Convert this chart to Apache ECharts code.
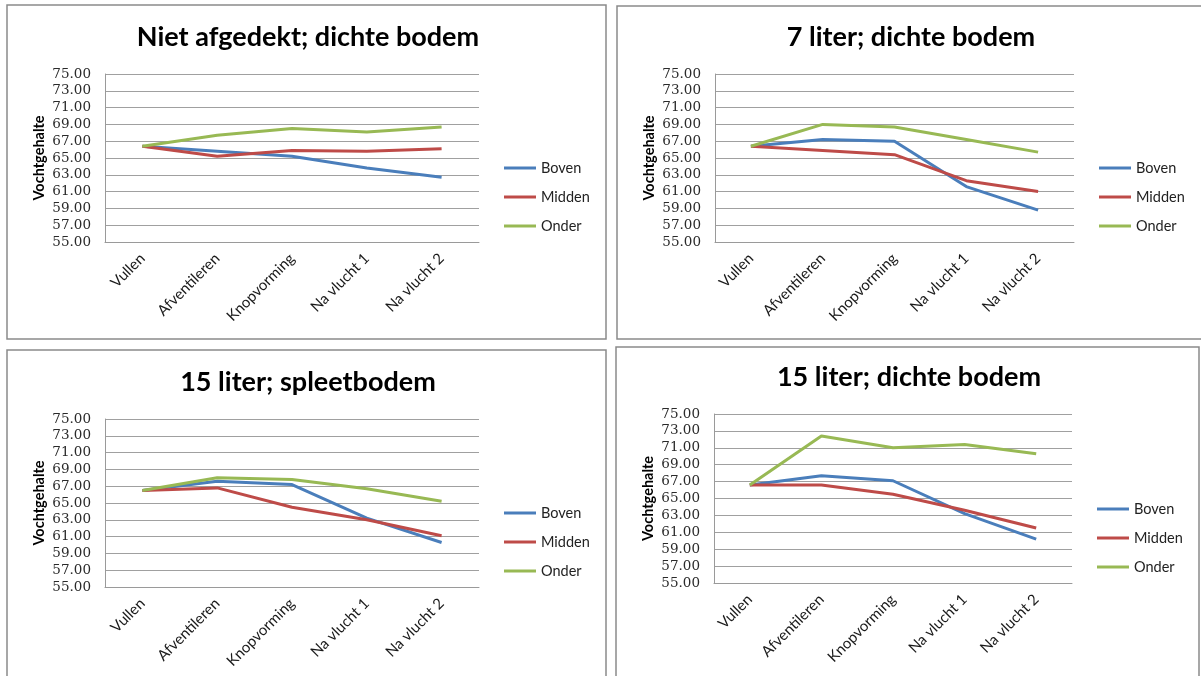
<!DOCTYPE html>
<html>
<head>
<meta charset="utf-8">
<script src="https://cdn.jsdelivr.net/npm/echarts@6/dist/echarts.min.js"></script>
<style>
  html, body { margin: 0; padding: 0; background: #ffffff; }
  #chart { width: 1201px; height: 676px; }
</style>
</head>
<body>
<div id="chart"></div>
<script>
// Measurement stages along the x axis
const categories = ['Vullen', 'Afventileren', 'Knopvorming', 'Na vlucht 1', 'Na vlucht 2'];
const seriesNames = ['Boven', 'Midden', 'Onder'];
const panelTitles = ['Niet afgedekt; dichte bodem', '7 liter; dichte bodem', '15 liter; spleetbodem', '15 liter; dichte bodem'];

// Moisture content (Vochtgehalte) per layer, per setup
const boven1  = [66.4, 65.8, 65.2, 63.8, 62.7];
const midden1 = [66.4, 65.2, 65.9, 65.8, 66.1];
const onder1  = [66.4, 67.7, 68.5, 68.1, 68.7];

const boven2  = [66.4, 67.2, 67.0, 61.6, 58.8];
const midden2 = [66.4, 65.9, 65.4, 62.3, 61.0];
const onder2  = [66.4, 69.0, 68.7, 67.2, 65.7];

const boven3  = [66.5, 67.6, 67.2, 63.2, 60.3];
const midden3 = [66.5, 66.8, 64.5, 63.0, 61.1];
const onder3  = [66.5, 68.0, 67.8, 66.7, 65.2];

const boven4  = [66.6, 67.7, 67.1, 63.2, 60.2];
const midden4 = [66.6, 66.6, 65.5, 63.6, 61.5];
const onder4  = [66.6, 72.4, 71.0, 71.4, 70.3];

// Value axis range
const yMin = 55, yMax = 75, yStep = 2;

const panelData = [
  [boven1, midden1, onder1],
  [boven2, midden2, onder2],
  [boven3, midden3, onder3],
  [boven4, midden4, onder4]
];

const colors = ['#4A7EBB', '#BE4B48', '#98B954'];

// Layout of each framed panel
const panels = [
  { frame: [7, 5, 599, 334],   grid: [105, 74, 374, 168],  titleX: 303, titleY: 19,  legendX: 504,  legendY: 160 },
  { frame: [617, 6, 620, 333], grid: [715, 74, 359, 168],  titleX: 906, titleY: 19,  legendX: 1099, legendY: 160 },
  { frame: [7, 350, 599, 340], grid: [105, 419, 374, 168], titleX: 303, titleY: 364, legendX: 504,  legendY: 505 },
  { frame: [616, 347, 583, 340], grid: [714, 414, 358, 169], titleX: 904, titleY: 359, legendX: 1097, legendY: 501 }
];

const option = {
  backgroundColor: '#ffffff',
  animation: false,
  graphic: panels.map(p => ({
    type: 'rect',
    shape: { x: p.frame[0], y: p.frame[1], width: p.frame[2], height: p.frame[3] },
    style: { fill: 'none', stroke: '#8a8a8a', lineWidth: 1.5 },
    silent: true,
    z: -1
  })),
  title: panels.map((p, i) => ({
    text: panelTitles[i],
    left: p.titleX,
    top: p.titleY,
    textAlign: 'center',
    textStyle: { fontFamily: 'Lato', fontWeight: 'bold', fontSize: 27, color: '#000000' }
  })),
  legend: panels.map((p, i) => ({
    orient: 'vertical',
    left: p.legendX,
    top: p.legendY,
    padding: 0,
    itemGap: 13,
    itemWidth: 32,
    itemHeight: 3,
    icon: 'rect',
    data: seriesNames.map(n => n + '\u200b'.repeat(i)),
    formatter: name => name.replace(/\u200b/g, ''),
    textStyle: { fontFamily: 'Lato', fontSize: 14.5, lineHeight: 16, color: '#222222' }
  })),
  grid: panels.map(p => ({
    left: p.grid[0], top: p.grid[1], width: p.grid[2], height: p.grid[3],
    containLabel: false
  })),
  xAxis: panels.map((p, i) => ({
    type: 'category',
    gridIndex: i,
    data: categories,
    boundaryGap: true,
    axisLine: { show: true, lineStyle: { color: '#9a9a9a', width: 1 } },
    axisTick: { show: false },
    axisLabel: { rotate: 45, margin: 14, interval: 0, fontFamily: 'Lato', fontSize: 15, color: '#1a1a1a' }
  })),
  yAxis: panels.map((p, i) => ({
    type: 'value',
    gridIndex: i,
    min: yMin,
    max: yMax,
    interval: yStep,
    name: 'Vochtgehalte',
    nameLocation: 'middle',
    nameRotate: 90,
    nameGap: 58,
    nameTextStyle: { fontFamily: 'Lato', fontWeight: 'bold', fontSize: 14.5, color: '#000000' },
    axisLine: { show: true, lineStyle: { color: '#9a9a9a', width: 1 } },
    axisTick: { show: false },
    splitLine: { show: true, lineStyle: { color: '#a0a0a0', width: 1 } },
    axisLabel: {
      margin: 14,
      fontFamily: 'DejaVu Serif',
      fontSize: 13.5,
      color: '#2a2a2a',
      formatter: v => v.toFixed(2)
    }
  })),
  series: []
};

panelData.forEach((rows, i) => {
  rows.forEach((values, s) => {
    option.series.push({
      name: seriesNames[s] + '\u200b'.repeat(i),
      type: 'line',
      xAxisIndex: i,
      yAxisIndex: i,
      data: values,
      symbol: 'none',
      smooth: false,
      color: colors[s],
      lineStyle: { width: 3, color: colors[s] }
    });
  });
});

const chart = echarts.init(document.getElementById('chart'), null, { renderer: 'canvas' });
chart.setOption(option);
</script>
</body>
</html>
